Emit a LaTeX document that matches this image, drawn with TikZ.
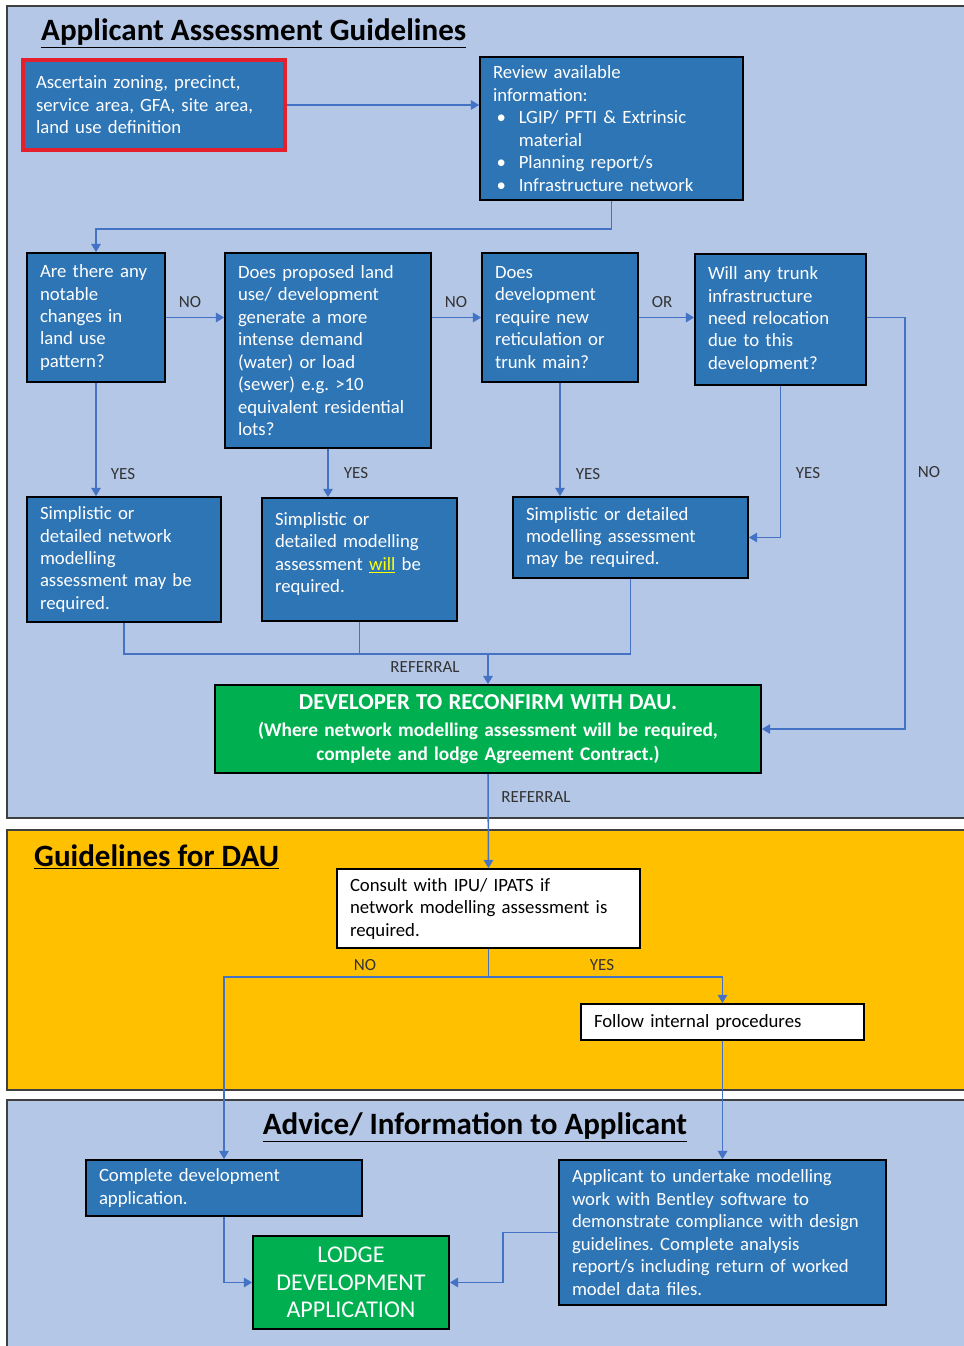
\documentclass[tikz,border=0pt]{standalone}
\usepackage{fontspec}
\setmainfont{Carlito}
\usepackage{tikz}
\usetikzlibrary{arrows.meta}

\definecolor{panelblue}{HTML}{B4C7E7}
\definecolor{boxblue}{HTML}{2E75B6}
\definecolor{boxgreen}{HTML}{00B050}
\definecolor{daugold}{HTML}{FFC000}
\definecolor{linkblue}{HTML}{4472C4}
\definecolor{ascred}{HTML}{E3202C}
\definecolor{willyellow}{HTML}{FFFF00}

\newcommand{\pxu}{0.03cm}
\newcommand{\itm}{\hspace*{3pt}\makebox[19pt][l]{\textbullet}}
\newcommand{\itmgap}{\hspace*{22pt}}
\newcommand{\ttl}[1]{\underline{#1}}
\frenchspacing

\begin{document}
\begin{tikzpicture}[x=\pxu, y=-\pxu,
  panel/.style={draw=black!75, line width=1.6pt},
  %
  stepbox/.style 2 args={rectangle, draw=black, line width=1.4pt, fill=boxblue,
    text=white, font=\fontsize{16}{19.2}\selectfont, align=left,
    inner xsep=13*\pxu, inner ysep=3pt, text width=(#1-26)*\pxu,
    minimum height=#2*\pxu},
  %
  whitebox/.style 2 args={stepbox={#1}{#2}, fill=white, text=black},
  %
  greenbox/.style 2 args={stepbox={#1}{#2}, fill=boxgreen, align=center},
  %
  title/.style={font=\fontsize{26.5}{30}\selectfont\bfseries, text=black, inner sep=0pt},
  %
  lbl/.style={font=\fontsize{14.5}{16}\selectfont, text=black!80, inner sep=1pt},
  %
  link/.style={draw=linkblue, line width=1.3pt},
  arr/.style={link, -{Triangle[width=8pt,length=7pt]}}
  ]

  \useasboundingbox (0,0) rectangle (964,1346);
  \clip (0,0) rectangle (964,1346);

  % panels
  \fill[panelblue] (7,6) rectangle (980,818);
  \draw[panel] (7,6) rectangle (980,818);
  \fill[daugold] (7,830) rectangle (980,1090);
  \draw[panel] (7,830) rectangle (980,1090);
  \fill[panelblue] (7,1100) rectangle (980,1360);
  \draw[panel] (7,1100) rectangle (980,1360);

  \node[title, anchor=west] (ttlapp) at (41,33) {\ttl{Applicant Assessment Guidelines}};
  \node[title, anchor=west] (ttldau) at (34,857) {\ttl{Guidelines for DAU}};
  \node[title] (ttladv) at (475,1127) {\ttl{Advice/ Information to Applicant}};

  %%%%%%%%%%%%%%%%%%%%%%%%%%%%%%% applicant assessment
  \node[stepbox={262}{90}, draw=ascred, line width=3pt] (asc) at (154,105)
    {Ascertain zoning, precinct,\\ service area, GFA, site area,\\ land use definition};
  \node[stepbox={263}{143}] (review) at (611.5,128.5)
    {Review available\\ information:\\
     \itm LGIP/ PFTI \& Extrinsic\\ \itmgap material\\
     \itm Planning report/s\\ \itm Infrastructure network};

  \node[stepbox={138}{129}] (landuse) at (96,317.5)
    {Are there any\\ notable\\ changes in\\ land use\\ pattern?};
  \node[stepbox={206}{195}] (demand) at (328,350.5)
    {Does proposed land\\ use/ development\\ generate a more\\ intense demand\\
     (water) or load\\ (sewer) e.g. >10\\ equivalent residential\\ lots?};
  \node[stepbox={156}{129}] (newmain) at (560,317.5)
    {Does\\ development\\ require new\\ reticulation or\\ trunk main?};
  \node[stepbox={171}{131}] (relocate) at (780.5,319.5)
    {Will any trunk\\ infrastructure\\ need relocation\\ due to this\\ development?};

  \node[stepbox={194}{125}] (maynet) at (124,559.5)
    {Simplistic or\\ detailed network\\ modelling\\ assessment may be\\ required.};
  \node[stepbox={195}{123}] (willmod) at (359.5,559.5)
    {Simplistic or\\ detailed modelling\\
     assessment {\color{willyellow}\underline{will}} be\\ required.\\[-7pt]\mbox{}};
  \node[stepbox={235}{81}] (maymod) at (630.5,537.5)
    {Simplistic or detailed\\ modelling assessment\\ may be required.};

  \node[greenbox={546}{88}] (reconfirm) at (488,729)
    {{\fontsize{19.5}{22}\selectfont\bfseries DEVELOPER TO RECONFIRM WITH DAU.}\\[4pt]
     {\fontsize{16.5}{20}\selectfont\bfseries (Where network modelling assessment will be required,}\\[1.5pt]
     {\fontsize{16.5}{20}\selectfont\bfseries complete and lodge Agreement Contract.)}};

  %%%%%%%%%%%%%%%%%%%%%%%%%%%%%%% DAU
  \node[whitebox={303}{79}] (consult) at (488.5,908.5)
    {Consult with IPU/ IPATS if\\ network modelling assessment is\\ required.};
  \node[whitebox={283}{36}] (follow) at (722.5,1022)
    {Follow internal procedures};

  %%%%%%%%%%%%%%%%%%%%%%%%%%%%%%% advice
  \node[stepbox={276}{56}] (complete) at (224,1188)
    {Complete development\\ application.};
  \node[greenbox={196}{93}, font=\fontsize{20.5}{23.5}\selectfont] (lodge) at (351,1282.5)
    {LODGE\\ DEVELOPMENT\\ APPLICATION};
  \node[stepbox={327}{145}] (bentley) at (722.5,1232.5)
    {Applicant to undertake modelling\\ work with Bentley software to\\
     demonstrate compliance with design\\ guidelines. Complete analysis\\
     report/s including return of worked\\ model data files.};

  %%%%%%%%%%%%%%%%%%%%%%%%%%%%%%% connectors
  \draw[arr] (asc) -- (asc -| review.west);
  \draw[arr] (review.south) -- ++(0,28) -| (landuse.north);
  \draw[arr] (landuse.east) -- (landuse.east -| demand.west);
  \draw[arr] (landuse.east -| demand.east) -- (newmain.west);
  \draw[arr] (newmain.east) -- (newmain.east -| relocate.west);
  \draw[arr] (relocate.east |- newmain.east) -- ++(38,0) |- (reconfirm.east);

  \draw[arr] (landuse.south) -- (landuse.south |- maynet.north);
  \draw[arr] (demand.south) -- (demand.south |- willmod.north);
  \draw[arr] (newmain.south) -- (newmain.south |- maymod.north);
  \draw[arr] (relocate.south) |- (maymod.east);

  \coordinate (referral) at (488,654);
  \draw[link] (maynet.south) |- (referral);
  \draw[link] (willmod.south) |- (referral);
  \draw[link] (maymod.south) |- (referral);
  \draw[arr] (referral) -- (reconfirm.north);

  \draw[arr] (reconfirm.south) -- (consult.north);
  \coordinate (split) at (488.5,977);
  \draw[link] (consult.south) -- (split);
  \draw[arr] (split) -| (complete.north);
  \draw[arr] (split) -| (follow.north);
  \draw[arr] (follow.south) -- (bentley.north);

  \draw[arr] (complete.south) |- (lodge.west);
  \draw[arr] (bentley.west) -- ++(-55,0) |- (lodge.east);

  % labels
  \node[lbl] (lblno1) at (190,302) {NO};
  \node[lbl] (lblno2) at (456,302) {NO};
  \node[lbl] (lblor) at (662,302) {OR};
  \node[lbl] (lblyes1) at (123,474) {YES};
  \node[lbl] (lblyes2) at (356,473) {YES};
  \node[lbl] (lblyes3) at (588,474) {YES};
  \node[lbl] (lblyes4) at (808,473) {YES};
  \node[lbl] (lblno3) at (929,472) {NO};
  \node[lbl] (lblref1) at (425,667) {REFERRAL};
  \node[lbl] (lblref2) at (536,797) {REFERRAL};
  \node[lbl] (lblno4) at (365,965) {NO};
  \node[lbl] (lblyes5) at (602,965) {YES};

\end{tikzpicture}
\end{document}
